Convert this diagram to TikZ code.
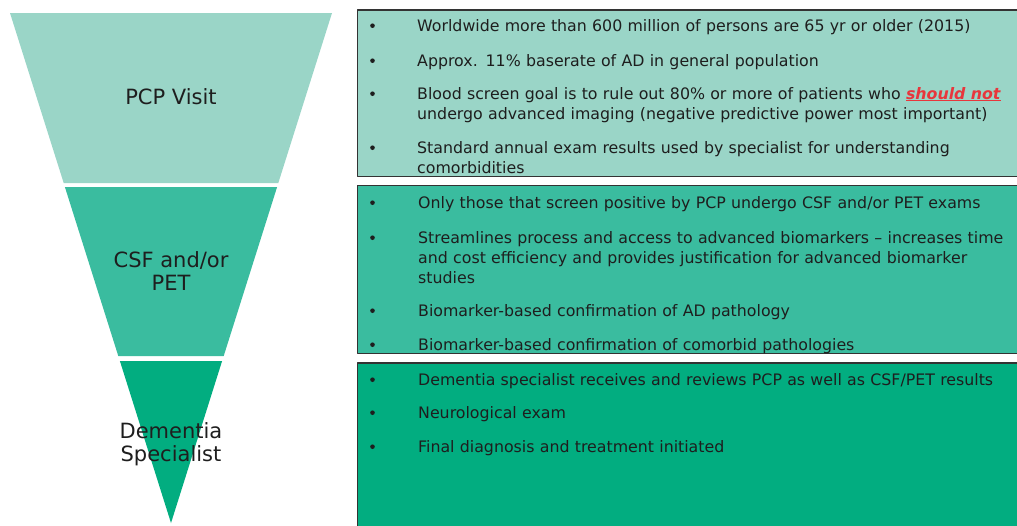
\documentclass[tikz,border=0pt]{standalone}
\usepackage{fontspec}
\setmainfont{DejaVu Sans}
\usepackage{tikz}
\definecolor{pcpfill}{HTML}{9AD5C7}
\definecolor{csffill}{HTML}{3ABC9F}
\definecolor{specfill}{HTML}{02AD80}
\definecolor{txt}{HTML}{1E1E1E}
\definecolor{warn}{HTML}{E8363C}

\begin{document}
\begin{tikzpicture}[x=1pt,y=-1pt,line join=round]
\tikzstyle{stage} = [font=\fontsize{21}{22.5}\selectfont,text=txt,align=center,inner sep=0pt]
\tikzstyle{box} = [draw=black!80,line width=1.3pt]
\tikzstyle{item} = [font=\fontsize{15.8}{20}\selectfont,text=txt,anchor=base west,align=left,text width=640pt,inner sep=0pt]
\clip (0,0) rectangle (1017,525);
\fill[white] (0,0) rectangle (1017,525);
% funnel
\fill[pcpfill](10,13)--(332,13)--(278.3,183)--(63.7,183)--cycle;
\fill[csffill](64.9,187)--(277.1,187)--(223.7,356)--(118.3,356)--cycle;
\fill[specfill](119.9,361)--(222.1,361)--(171,523)--cycle;
\path[stage]
  (171,97) node (pcp) {PCP Visit}
  (171,271) node (csf) {CSF and/or\\PET}
  (171,444) node (spec) {Dementia\\Specialist};
% boxes
\filldraw[box,fill=pcpfill](357.7,10) rectangle (1030,176.7);
\filldraw[box,fill=csffill](357.7,185.5) rectangle (1030,353.5);
\filldraw[box,fill=specfill](357.7,363) rectangle (1030,540);
\foreach \y in {31,66,99,153,208,243,316,350,385,418,452}
  \fill[txt] (372.5,\y-5.3) circle (2.3pt);
\path[item]
  (417,31) node (world) {Worldwide more than 600 million of persons are 65 yr or older (2015)}
  (417,66) node (base) {Approx. 11\% baserate of AD in general population}
  (417,99) node (blood) {Blood screen goal is to rule out 80\% or more of patients who {\color{warn}\underline{\textbf{\textit{should not}}}}\\undergo advanced imaging (negative predictive power most important)}
  (417,153) node (annual) {Standard annual exam results used by specialist for understanding\\comorbidities};
\path[item]
  (418,208) node (only) {Only those that screen positive by PCP undergo CSF and/or PET exams}
  (418,243) node (stream) {Streamlines process and access to advanced biomarkers – increases time\\and cost efficiency and provides justification for advanced biomarker\\studies}
  (418,316) node (adpath) {Biomarker-based confirmation of AD pathology}
  (418,350) node (comorb) {Biomarker-based confirmation of comorbid pathologies};
\path[item]
  (418,385) node (review) {Dementia specialist receives and reviews PCP as well as CSF/PET results}
  (418,418) node (neuro) {Neurological exam}
  (418,452) node (final) {Final diagnosis and treatment initiated};
\end{tikzpicture}
\end{document}
